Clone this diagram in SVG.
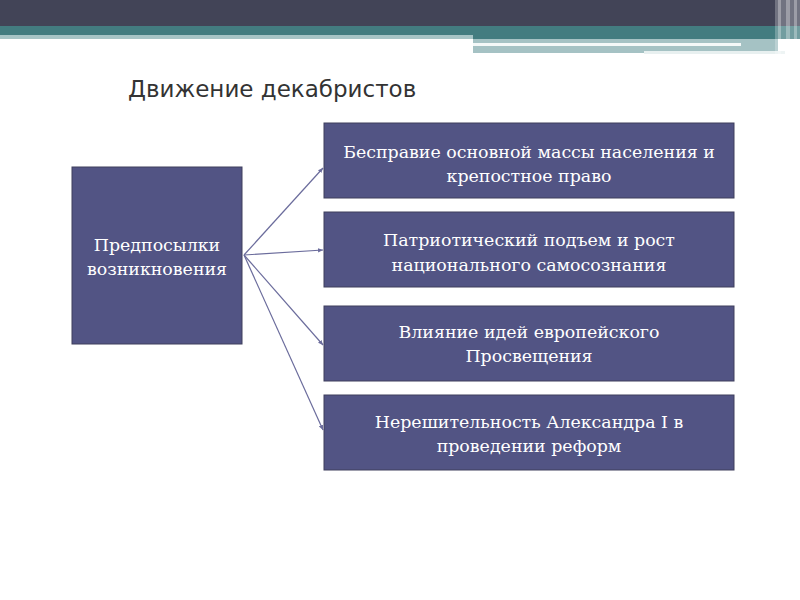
<svg xmlns="http://www.w3.org/2000/svg" width="800" height="600" viewBox="0 0 800 600">
<style>
.box{fill:#525484;stroke:#3e3f5c;stroke-width:1}
.bt{font-family:"DejaVu Serif","Liberation Serif",serif;font-size:17.4px;fill:#ffffff;text-anchor:middle}
.con{stroke:#6b6c9c;stroke-width:1.2;fill:none;marker-end:url(#ah)}
</style>
<defs>
<marker id="ah" markerWidth="6" markerHeight="6" refX="5" refY="3" orient="auto" markerUnits="userSpaceOnUse">
<path d="M0,0.8 L5,3 L0,5.2 z" fill="#6b6c9c"/>
</marker>
</defs>
<rect width="800" height="600" fill="#ffffff"/>
<g id="header">
<rect x="0" y="0" width="800" height="26" fill="#424457"/>
<rect x="0" y="26" width="800" height="9" fill="#437c80"/>
<rect x="0" y="35" width="473" height="4" fill="#a7c4c6"/>
<rect x="473" y="35" width="327" height="4" fill="#437c80"/>
<rect x="473" y="39" width="305" height="14" fill="#a5c2c4"/>
<rect x="473" y="43" width="268" height="3" fill="#f4f8f8"/>
<rect x="644" y="51" width="141" height="3" fill="#e8f0f0"/>
<rect x="775" y="0" width="25" height="54" fill="#ffffff" opacity="0.25"/>
<rect x="778" y="0" width="3" height="54" fill="#ffffff" opacity="0.3"/>
<rect x="786" y="0" width="4" height="54" fill="#ffffff" opacity="0.3"/>
<rect x="794" y="0" width="3" height="54" fill="#ffffff" opacity="0.3"/>
</g>
<text x="128" y="97" font-family="'DejaVu Sans','Liberation Sans',sans-serif" font-size="23" fill="#333333">Движение декабристов</text>
<g id="connectors">
<line class="con" x1="244" y1="255" x2="323" y2="168"/>
<line class="con" x1="244" y1="255" x2="323" y2="250"/>
<line class="con" x1="244" y1="255" x2="323" y2="345"/>
<line class="con" x1="244" y1="255" x2="323" y2="430"/>
</g>
<g id="n0">
<rect class="box" x="72" y="167" width="170" height="177"/>
<text class="bt" x="157" y="251">Предпосылки</text>
<text class="bt" x="157" y="275">возникновения</text>
</g>
<g id="n1">
<rect class="box" x="324" y="123" width="410" height="75"/>
<text class="bt" x="529" y="158">Бесправие основной массы населения и</text>
<text class="bt" x="529" y="182">крепостное право</text>
</g>
<g id="n2">
<rect class="box" x="324" y="212" width="410" height="75"/>
<text class="bt" x="529" y="246">Патриотический подъем и рост</text>
<text class="bt" x="529" y="271">национального самосознания</text>
</g>
<g id="n3">
<rect class="box" x="324" y="306" width="410" height="75"/>
<text class="bt" x="529" y="338">Влияние идей европейского</text>
<text class="bt" x="529" y="362">Просвещения</text>
</g>
<g id="n4">
<rect class="box" x="324" y="395" width="410" height="75"/>
<text class="bt" x="529" y="428">Нерешительность Александра I в</text>
<text class="bt" x="529" y="452">проведении реформ</text>
</g>
</svg>
